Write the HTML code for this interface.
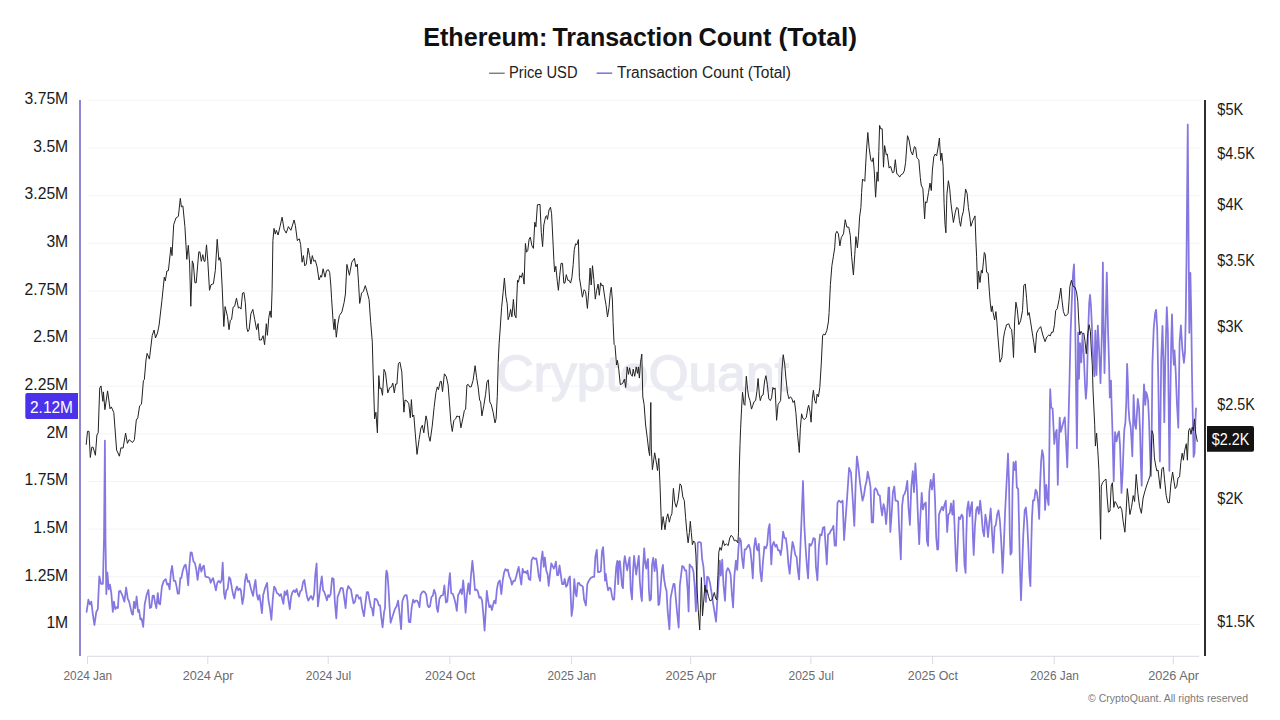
<!DOCTYPE html>
<html><head><meta charset="utf-8"><title>Ethereum: Transaction Count (Total)</title>
<style>
html,body{margin:0;padding:0;background:#fff;}
body{width:1280px;height:720px;overflow:hidden;font-family:"Liberation Sans",sans-serif;}
svg{display:block;}
text{font-family:"Liberation Sans",sans-serif;}
.yl{font-size:15.7px;fill:#1a1a1a;}
.xl{font-size:12.6px;fill:#6b6b6b;}
</style></head><body>
<svg width="1280" height="720" viewBox="0 0 1280 720">
<rect width="1280" height="720" fill="#fff"/>

<text x="423.2" y="45.8" font-size="25.5" font-weight="bold" fill="#111" textLength="124.3" lengthAdjust="spacingAndGlyphs">Ethereum:</text>
<text x="552.4" y="45.8" font-size="25.5" font-weight="bold" fill="#111" textLength="140.4" lengthAdjust="spacingAndGlyphs">Transaction</text>
<text x="698.4" y="45.8" font-size="25.5" font-weight="bold" fill="#111" textLength="73.1" lengthAdjust="spacingAndGlyphs">Count</text>
<text x="778.5" y="45.8" font-size="25.5" font-weight="bold" fill="#111" textLength="78.5" lengthAdjust="spacingAndGlyphs">(Total)</text>
<line x1="489.1" y1="73.2" x2="504.7" y2="73.2" stroke="#444" stroke-width="1"/>
<text x="509" y="77.9" font-size="15.6" fill="#222" textLength="68.5" lengthAdjust="spacingAndGlyphs">Price USD</text>
<line x1="596.6" y1="73.2" x2="612.2" y2="73.2" stroke="#8477e1" stroke-width="1.6"/>
<text x="617" y="77.9" font-size="15.6" fill="#222" textLength="174" lengthAdjust="spacingAndGlyphs">Transaction Count (Total)</text>
<line x1="88" y1="100.3" x2="1200" y2="100.3" stroke="#f4f4f7" stroke-width="1"/>
<line x1="88" y1="147.95" x2="1200" y2="147.95" stroke="#f4f4f7" stroke-width="1"/>
<line x1="88" y1="195.6" x2="1200" y2="195.6" stroke="#f4f4f7" stroke-width="1"/>
<line x1="88" y1="243.25" x2="1200" y2="243.25" stroke="#f4f4f7" stroke-width="1"/>
<line x1="88" y1="290.9" x2="1200" y2="290.9" stroke="#f4f4f7" stroke-width="1"/>
<line x1="88" y1="338.55" x2="1200" y2="338.55" stroke="#f4f4f7" stroke-width="1"/>
<line x1="88" y1="386.2" x2="1200" y2="386.2" stroke="#f4f4f7" stroke-width="1"/>
<line x1="88" y1="433.85" x2="1200" y2="433.85" stroke="#f4f4f7" stroke-width="1"/>
<line x1="88" y1="481.5" x2="1200" y2="481.5" stroke="#f4f4f7" stroke-width="1"/>
<line x1="88" y1="529.15" x2="1200" y2="529.15" stroke="#f4f4f7" stroke-width="1"/>
<line x1="88" y1="576.8" x2="1200" y2="576.8" stroke="#f4f4f7" stroke-width="1"/>
<line x1="88" y1="624.45" x2="1200" y2="624.45" stroke="#f4f4f7" stroke-width="1"/>
<text x="496.5" y="390.5" font-size="50" fill="#eaeaf2" stroke="#eaeaf2" stroke-width="1.4" textLength="292.5" lengthAdjust="spacingAndGlyphs">CryptoQuant</text>
<line x1="87" y1="656.3" x2="1199" y2="656.3" stroke="#dadae8" stroke-width="1"/>
<line x1="87.5" y1="656" x2="87.5" y2="664" stroke="#dadae8" stroke-width="1"/>
<text class="xl" x="63.5" y="680.3" textLength="48.6" lengthAdjust="spacingAndGlyphs">2024 Jan</text>
<line x1="207.8" y1="656" x2="207.8" y2="664" stroke="#dadae8" stroke-width="1"/>
<text class="xl" x="182.7" y="680.3" textLength="50.8" lengthAdjust="spacingAndGlyphs">2024 Apr</text>
<line x1="328.2" y1="656" x2="328.2" y2="664" stroke="#dadae8" stroke-width="1"/>
<text class="xl" x="305.8" y="680.3" textLength="45.4" lengthAdjust="spacingAndGlyphs">2024 Jul</text>
<line x1="449.9" y1="656" x2="449.9" y2="664" stroke="#dadae8" stroke-width="1"/>
<text class="xl" x="425.1" y="680.3" textLength="50.2" lengthAdjust="spacingAndGlyphs">2024 Oct</text>
<line x1="571.5" y1="656" x2="571.5" y2="664" stroke="#dadae8" stroke-width="1"/>
<text class="xl" x="547.5" y="680.3" textLength="48.6" lengthAdjust="spacingAndGlyphs">2025 Jan</text>
<line x1="690.6" y1="656" x2="690.6" y2="664" stroke="#dadae8" stroke-width="1"/>
<text class="xl" x="665.5" y="680.3" textLength="50.8" lengthAdjust="spacingAndGlyphs">2025 Apr</text>
<line x1="810.9" y1="656" x2="810.9" y2="664" stroke="#dadae8" stroke-width="1"/>
<text class="xl" x="788.5" y="680.3" textLength="45.4" lengthAdjust="spacingAndGlyphs">2025 Jul</text>
<line x1="932.6" y1="656" x2="932.6" y2="664" stroke="#dadae8" stroke-width="1"/>
<text class="xl" x="907.8" y="680.3" textLength="50.2" lengthAdjust="spacingAndGlyphs">2025 Oct</text>
<line x1="1054.2" y1="656" x2="1054.2" y2="664" stroke="#dadae8" stroke-width="1"/>
<text class="xl" x="1030.2" y="680.3" textLength="48.6" lengthAdjust="spacingAndGlyphs">2026 Jan</text>
<line x1="1173.3" y1="656" x2="1173.3" y2="664" stroke="#dadae8" stroke-width="1"/>
<text class="xl" x="1148.2" y="680.3" textLength="50.8" lengthAdjust="spacingAndGlyphs">2026 Apr</text>
<text class="yl" x="68.2" y="103.9" text-anchor="end">3.75M</text>
<text class="yl" x="68.2" y="151.58" text-anchor="end">3.5M</text>
<text class="yl" x="68.2" y="199.26" text-anchor="end">3.25M</text>
<text class="yl" x="68.2" y="246.94" text-anchor="end">3M</text>
<text class="yl" x="68.2" y="294.62" text-anchor="end">2.75M</text>
<text class="yl" x="68.2" y="342.3" text-anchor="end">2.5M</text>
<text class="yl" x="68.2" y="389.98" text-anchor="end">2.25M</text>
<text class="yl" x="68.2" y="437.66" text-anchor="end">2M</text>
<text class="yl" x="68.2" y="485.34" text-anchor="end">1.75M</text>
<text class="yl" x="68.2" y="533.02" text-anchor="end">1.5M</text>
<text class="yl" x="68.2" y="580.7" text-anchor="end">1.25M</text>
<text class="yl" x="68.2" y="628.38" text-anchor="end">1M</text>
<text class="yl" x="1217.3" y="114.5" textLength="25.9" lengthAdjust="spacingAndGlyphs">$5K</text>
<text class="yl" x="1217.3" y="159.3" textLength="37.6" lengthAdjust="spacingAndGlyphs">$4.5K</text>
<text class="yl" x="1217.3" y="209.5" textLength="25.9" lengthAdjust="spacingAndGlyphs">$4K</text>
<text class="yl" x="1217.3" y="266.2" textLength="37.6" lengthAdjust="spacingAndGlyphs">$3.5K</text>
<text class="yl" x="1217.3" y="332" textLength="25.9" lengthAdjust="spacingAndGlyphs">$3K</text>
<text class="yl" x="1217.3" y="409.5" textLength="37.6" lengthAdjust="spacingAndGlyphs">$2.5K</text>
<text class="yl" x="1217.3" y="504" textLength="25.9" lengthAdjust="spacingAndGlyphs">$2K</text>
<text class="yl" x="1217.3" y="626.5" textLength="37.6" lengthAdjust="spacingAndGlyphs">$1.5K</text>
<path d="M86.6 611.9 L88.4 599.7 L89.9 604.4 L91.3 601.6 L92.8 613.8 L94.4 625 L96.3 611.9 L97.8 609.1 L99.3 576.3 L101 583.8 L102.9 583.8 L104 538.8 L104.9 440.6 L105.5 538.8 L106.3 594.1 L107.4 572.5 L108.7 589.4 L110 584.7 L111.3 593.1 L112.8 611.9 L113.9 601.6 L115.3 609.1 L116.6 607.2 L117.9 608.1 L119 591.3 L120.3 590.9 L122.2 595 L124.4 601.6 L126.1 587.5 L127.8 598.8 L129.1 601.6 L130.6 608.1 L131.9 613.8 L132.9 614.7 L134 601.6 L135.3 608.1 L136.6 596.5 L138.1 611.9 L139.1 610 L140.4 619.4 L141.5 618.4 L143.2 626.9 L144.7 604.4 L146.6 595 L148.4 589.8 L149.9 608.1 L151.3 607.2 L152.6 595.9 L153.9 595.6 L155 602.5 L156.3 608.1 L157.8 593.1 L158.8 603.4 L160.1 604.4 L161.9 586.6 L163.8 580.9 L165.7 579.1 L167.2 584.7 L168.3 583.8 L169.6 589.4 L170.9 572.5 L172.1 565.9 L173.8 580.9 L175.3 580.9 L176.6 586.6 L177.7 593.7 L179 593.7 L180.3 578.1 L181.3 578.1 L182.8 570.6 L184.3 565.9 L185.6 564.6 L186.9 572.5 L188.2 585.3 L189.3 566.9 L190.6 552.3 L191.9 552.8 L193.4 561.3 L194.9 563.1 L196.3 569.7 L197.6 580 L199.1 567.8 L200 564.1 L201.3 571.6 L202.8 566.9 L203.9 565.6 L205.3 576.3 L206.6 577.2 L208.1 577.2 L209.4 578.1 L210.7 582.8 L211.8 580 L213.1 578.1 L214.4 583.8 L215.9 590.3 L217.3 582.8 L218.8 580.9 L220.3 582.8 L221.6 580 L222.7 562.6 L224 593.1 L225.1 598.8 L226.3 590.3 L227.6 589.4 L229.1 577.2 L230.4 579.1 L231.9 588.4 L233.2 595 L234.3 598.4 L235.6 590.3 L236.9 586.6 L238.4 590.3 L239.8 588.4 L240.9 590.3 L242.4 604 L243.7 596.9 L245 580.9 L246.3 574 L247.8 581.9 L249.1 580.9 L250.6 587.5 L251.9 592.2 L253.1 595.9 L254.4 585.6 L255.5 580 L256.8 594.1 L258.1 599.7 L259.4 595 L260.6 602.5 L261.9 613.2 L263.2 595 L264.7 589.4 L266 585.6 L267.1 582.8 L268.4 599.7 L269.9 608.1 L271.4 619.8 L272.8 598.8 L274.1 586.6 L275.4 588.4 L276.9 593.1 L278.4 594.1 L279.7 595.9 L281 594.1 L282.1 598.8 L283.4 603.8 L284.6 591.3 L285.9 595 L287.2 590.3 L288.5 600.6 L289.8 609.1 L291.1 596.9 L292.4 592.2 L293.8 590.3 L295.1 592.2 L296.6 589 L297.9 594.1 L299 596.5 L300.3 591.3 L301.6 590.3 L303.1 581.9 L304.4 580 L305.9 590.3 L307.3 597.8 L308.4 600.6 L309.7 597.8 L311 595.9 L312.8 599.7 L314.1 594.1 L315.3 574.4 L316.6 563.5 L317.9 606.3 L319.4 595 L320.7 583.8 L321.8 576.3 L323.1 590.3 L324.4 592.2 L325.9 596.9 L326.9 600.3 L328.2 595 L329.3 596.9 L330.6 594.1 L332.1 578.1 L333.6 579.1 L334.9 602.5 L336.3 618.4 L337.6 596.9 L339.1 593.1 L340.9 587.9 L342.8 588.4 L344.3 598.8 L345.6 608.1 L346.9 591.3 L348.3 586 L349.8 588.4 L350.9 589.4 L352.2 596.9 L353.5 603.4 L355 601.6 L356.3 595 L357.6 595 L359.1 598.8 L360.6 597.3 L362.1 608.1 L364 616.2 L365.3 604.4 L366.8 592.2 L368.1 592.2 L369.6 600.6 L370.9 607.2 L371.9 608.1 L373.2 615.6 L374.7 598.8 L376.2 599.1 L377.5 601 L378.8 605.3 L380 605.3 L381.3 617.5 L382.6 627.3 L384.1 611.9 L385 608.1 L385.9 576.3 L386.5 570.6 L387.4 573.4 L388.4 586.6 L389.5 606.3 L390.6 622.8 L391.9 618.4 L393.4 613.8 L394.9 609.1 L396.6 606.3 L398.1 600.6 L399.6 613.8 L401.1 629.1 L402.3 601.6 L403.8 596.9 L405.3 595 L406.6 595 L407.5 600.6 L408.8 621.8 L410.3 622.2 L411.6 608.1 L413.1 599.7 L414.4 602.5 L415.6 600.6 L416.9 600.6 L418.2 602.5 L419.5 607.2 L420.6 595 L422.1 592.2 L423.4 591.3 L424.9 592.2 L426.3 595 L427.6 605.3 L428.7 607.2 L430 606.3 L431.5 596.9 L432.8 595.9 L434.1 589.8 L435.6 594.1 L436.8 608.1 L437.9 611.9 L439.4 598.8 L440.9 595.9 L443.1 595 L444.4 585.3 L445.9 602.5 L447.3 601.6 L448.8 583.8 L449.9 573.1 L451.2 593.1 L452.9 594.1 L454.4 598.8 L455.7 604.4 L456.8 610.9 L458.1 595 L459.4 593.1 L460.6 589.4 L461.9 594.1 L463.2 580.4 L464.3 593.1 L465.6 612.8 L466.9 595 L468.4 583.4 L469.8 594.1 L470.9 576.3 L472.4 560.9 L473.7 574.4 L475 590.3 L476.5 589.4 L477.8 591.3 L479.3 597.8 L480.6 596.9 L482.1 600.6 L483.3 613.8 L484.6 630.6 L485.9 608.1 L486.8 590.9 L488.1 600.6 L489.3 607.2 L490.6 605.3 L491.9 610 L493.2 604.4 L494.3 600.6 L495.6 603.4 L496.9 589.4 L498.1 582.8 L499.8 580.4 L501.3 594.1 L502.8 580 L504.1 572.5 L505.4 569.1 L506.9 570.6 L507.8 569.7 L509.3 576.3 L510.6 579.1 L511.9 584.7 L513.4 580.9 L514.8 580.9 L516.3 576.3 L517.6 570.6 L518.7 566.9 L520 576.3 L521.3 584.7 L522.6 568.8 L523.8 572.5 L525.1 571.6 L526.6 573.4 L527.5 570.6 L528.8 579.1 L530.3 580 L531.6 560.3 L533.1 557.5 L534.6 558.8 L536.3 558.4 L537.4 565 L538.8 576.3 L540.1 580.9 L541.2 561.3 L542.5 551.5 L543.8 566.9 L544.9 557.5 L546.3 570.6 L547.6 574.4 L548.7 585.9 L550 573.8 L551.3 563.4 L552.6 566 L553.8 568.6 L554.8 566 L555.9 561.6 L557.1 575.2 L558.3 575.2 L559.5 565.5 L560.7 573.8 L562.1 584.2 L563.5 584.2 L564.7 579 L566.1 586.8 L567.3 585.1 L568.5 579 L569.9 576.4 L570.8 598.1 L571.6 616 L572.9 606.8 L574.3 579 L575.5 592.9 L576.5 596.4 L577.7 583.3 L579.1 582.8 L580.3 585.1 L581.7 585.6 L582.9 586.8 L584.1 599.8 L585.9 605.4 L587.3 584.2 L589 580.4 L590.7 578.1 L592.5 576.9 L594.2 576.9 L595.4 556.4 L596.8 549.8 L598 572.1 L599.4 572.1 L600.8 571.2 L602 551.2 L603.1 547.2 L604.3 565.1 L605 580.7 L605.8 573.8 L606.9 583.3 L608.1 590.3 L609.5 587.7 L610.7 588.5 L612.1 596.4 L612.9 599.5 L614.2 599.5 L615 584.2 L616.2 566.9 L617.3 560.8 L618.2 584.2 L619 561.6 L619.9 561.1 L620.9 572.1 L622 585.9 L623 588.2 L623.9 563.4 L624.8 556.1 L626 563.4 L627.2 570.3 L628.4 563.4 L629.6 557.3 L630.7 589.4 L632 599.5 L633.1 570.3 L634.1 555.9 L635.2 566 L636.2 574.7 L637.2 566.9 L638.8 555.9 L639.8 580.7 L641.1 596.4 L641.9 601 L642.8 572.1 L644.2 548.3 L645.2 563.4 L646.3 568.6 L647.1 561.6 L648 559 L648.9 589.4 L649.7 600.7 L651 599 L652 565.1 L653.2 557.8 L654.6 571.2 L655.8 559 L657.2 572.1 L658.4 605 L659.3 604.2 L660.5 589.4 L661.9 570.3 L662.9 564.8 L664.1 579 L665.4 586.8 L666.6 591.2 L667.6 610.2 L669.4 629.3 L670.6 598.1 L672.3 589.4 L673.5 583.9 L674.6 584.2 L675.8 598.1 L677.2 613.7 L678.7 627.6 L679.8 585.9 L680.6 579 L682.2 566 L683.6 566.9 L685 570.3 L686.2 570.3 L687.6 589.4 L688.6 611.5 L689.6 564.4 L690.7 566.3 L692.2 567.2 L693.5 571.9 L694.6 585 L695.9 611.3 L696.9 575.6 L697.8 542.8 L699.3 541.9 L701 542.8 L702.1 558.8 L703.4 566.3 L704.8 585 L705.9 601.9 L707.2 576.6 L708.5 577.5 L710 583.1 L711.5 592.5 L713.2 603.8 L714.7 613.1 L716 621.6 L717.1 603.8 L718.4 585 L719.8 560.6 L720.9 575.6 L722.2 559.7 L723.5 585 L725 600.9 L726.3 571.9 L727.8 568.1 L729.1 570 L730.6 574.7 L731.9 594.4 L733.1 607.5 L734.4 575.6 L735.9 560.6 L737.2 570 L738.5 547.5 L739.6 538.1 L740.9 540.9 L741.9 556.9 L743.4 568.1 L744.7 549.4 L746 549.4 L747.5 546.6 L748.8 544.7 L750.3 549.4 L751.6 562.5 L752.8 578.4 L754.1 547.5 L755.4 538.1 L756.9 549.4 L757.8 550.3 L758.8 543.8 L760.3 571.9 L761.6 581.3 L762.9 562.5 L764.4 546.6 L765.9 548.4 L767.2 544.7 L768.5 528.8 L769.6 524.1 L770.6 547.5 L771.3 564.4 L772.4 545.6 L773.8 541.9 L775.3 546.6 L776.6 544.7 L778.1 550.3 L779.4 550.3 L780.7 555 L781.8 547.5 L783.1 531.6 L784.6 538.1 L785.9 538.1 L787.3 549.4 L788.4 564.4 L789.7 573.8 L791 556.9 L792.5 541.9 L793.8 546.6 L795.3 555 L796.6 556.9 L797.8 570 L799.1 579.4 L800 556.9 L801.3 525 L803 481 L804.3 525 L805.6 547.5 L806.9 566.3 L808.1 578.4 L809.4 543.8 L810.9 545.6 L812.2 542.8 L813.5 538.1 L815 539.1 L815.9 566.3 L817.4 580.3 L818.8 547.5 L820.1 534.4 L821.6 535.3 L822.9 527.8 L824.4 526.9 L825.7 547.5 L826.8 564.4 L828.1 534.4 L829.6 533.4 L830.9 530.6 L832.3 528.8 L833.4 525.9 L834.7 545.6 L836 545.6 L837.5 502.5 L839 500.6 L840.9 502.5 L842.6 500.6 L844.1 540 L845.5 520 L846.9 500.6 L849.1 467.8 L851 472.5 L852.6 497.3 L854.3 525.9 L855.7 483.4 L856.9 456.5 L858.3 466 L859.9 481.6 L861.3 492.1 L862.5 500.7 L863.9 495.5 L865.3 486 L866.5 481.6 L867.7 471.6 L869.1 478.2 L870.5 486.9 L871.7 522.4 L873.1 522.4 L874.3 490.3 L875.5 488.2 L876.9 490.3 L878.3 494.7 L879.8 495.5 L880.9 506.8 L882.1 515.5 L883.5 504.2 L884.7 508.5 L886.1 524.2 L887.3 509.4 L888.5 487.7 L889.2 487.7 L890.3 532 L891.6 514.6 L892.9 492.1 L894.3 486.5 L895.5 500.7 L896.9 500.7 L898.1 501.6 L899.1 526.8 L900.8 559.4 L902.1 505.9 L903.4 495.5 L904.7 493.8 L905.9 489.5 L907.3 480.8 L908.5 507.7 L909.9 525 L911.3 486.9 L912.8 471.2 L914 492.1 L915.4 463.4 L916.8 486.9 L918 518.1 L919.2 544.1 L920.3 518.1 L921.7 492.9 L922.9 509.4 L924.3 504.2 L925.8 502.5 L926.9 540.7 L928.1 545.9 L929.3 492.1 L930.7 479.9 L932.1 489.5 L933.8 473.8 L935 499 L936.2 537.2 L937.3 549.7 L938.2 549.3 L939 514.6 L940.2 511.1 L942 506.8 L943.2 510.3 L944.6 504.2 L945.8 500.7 L947.2 532 L948.4 514.6 L949.8 512.9 L951 503.3 L952.4 514.6 L953.6 500.7 L954.6 526.8 L955.7 556.3 L956.6 571.1 L957.6 547.6 L958.8 517.2 L960.2 519 L961.6 514.6 L962.8 516.4 L963.7 544.1 L964.5 565 L965.6 572.9 L966.3 537.2 L967.1 509.4 L968.4 501.6 L969.7 516.4 L971 506.8 L972 502.1 L972.9 537.2 L973.7 555 L974.9 526.8 L976.3 509.4 L977.5 506.8 L978.8 513.8 L980.2 500.7 L981.4 512.9 L982.8 530.2 L984.1 536.3 L985.4 514.6 L986.6 521.6 L988 537.2 L989.4 521.6 L990.7 508.5 L992 532 L993.3 552.8 L994.6 526.8 L995.8 525 L997.2 514.6 L998.5 510.3 L999.8 519.8 L1001 537.2 L1002 558 L1002.6 572.9 L1003.9 543.4 L1005.1 512.1 L1006.6 482.2 L1008 453.5 L1009 482.2 L1009.8 534.7 L1010.5 554.7 L1011.7 552.1 L1012.5 489.1 L1013.5 462.2 L1014.8 470 L1015.8 461.4 L1016.8 487.4 L1018.2 489.1 L1019 522.6 L1020 569.4 L1021 600.3 L1022.1 569.4 L1023.3 534.7 L1024.7 510.4 L1025.9 507.5 L1027.1 520.8 L1028.2 543.4 L1029.4 574.6 L1030.4 586.2 L1031.3 543.4 L1032 517.4 L1033 500.4 L1034.2 500.4 L1035.6 489.6 L1036.8 491.7 L1038.2 503 L1039.2 519 L1039.9 489.1 L1041.1 461.4 L1042.2 450.1 L1043.4 456.2 L1044.3 480.4 L1045.1 510 L1046.3 484.8 L1047.4 497.8 L1048.6 505 L1049.3 454.4 L1049.8 411 L1050.2 389.2 L1051.2 407.6 L1052.6 408.4 L1053.4 424.9 L1054.3 444 L1055.5 433.6 L1056.7 429.8 L1057.8 484.8 L1058.7 445.7 L1059.7 417.6 L1060.7 431.9 L1062 427.5 L1063.3 422.3 L1064.8 417.3 L1066 440 L1067.3 467.4 L1068.4 425 L1069.4 385 L1070.6 332.5 L1072.1 293.9 L1073 274.4 L1074 264.3 L1074.8 293.9 L1075.4 335 L1076.2 400 L1076.9 448.2 L1077.5 400 L1078.1 332.5 L1079 378.8 L1080 343.1 L1081.3 362.5 L1082.5 335 L1083.8 355 L1085 385 L1085.9 398.8 L1086.9 385 L1088.1 332.5 L1089.2 303 L1090 294.9 L1090.9 305 L1091.9 326.3 L1093.1 357.5 L1094.4 376.3 L1095.3 330.6 L1096.5 375 L1097.8 325.6 L1099 347.5 L1100.5 383.2 L1101.9 332.5 L1102.9 262.5 L1103.5 326.3 L1104.5 373.1 L1105.4 332.5 L1106.8 272.5 L1108.1 332.5 L1109.1 365 L1109.8 397.5 L1110.4 382.5 L1111 380.6 L1111.5 401.3 L1112.5 432.5 L1113.7 481.3 L1114.6 445 L1115.1 432.1 L1116 440 L1116.6 441.3 L1117.8 433.8 L1119 431.3 L1120 445 L1121.5 492.9 L1122.7 471.8 L1123.8 440 L1124.4 428.8 L1125.4 422.5 L1126.3 401.3 L1127.1 363.8 L1127.9 382.5 L1128.5 407.5 L1129.4 420 L1130.6 426.3 L1131.5 440 L1132.3 456.3 L1132.9 432.5 L1133.6 395 L1134.3 411.3 L1135 425 L1136 428.8 L1136.9 413.8 L1137.8 398.8 L1139 407.5 L1140 430 L1140.9 465 L1141.7 485.7 L1142.5 437.1 L1143.3 402 L1144 384.4 L1144.7 393 L1145.3 404.9 L1146.1 392 L1147 394.5 L1148.1 401 L1149 420 L1150.1 455 L1151 476 L1151.8 425 L1152.4 363.9 L1153.7 328.9 L1155.1 313.3 L1156.1 309.8 L1157.2 328.9 L1158.3 380 L1159 430 L1159.9 461.4 L1160.6 410 L1161.2 360 L1162.5 326 L1163.4 361.9 L1164.3 422.2 L1165.3 360 L1166.8 307.1 L1167.9 332.8 L1168.6 400 L1169.4 470.8 L1170.3 400 L1171.2 342.5 L1172 314.3 L1173 350.3 L1173.8 364.8 L1174.5 350.3 L1175.7 371.6 L1176.9 402.8 L1178.3 427.8 L1179 380 L1179.6 342.5 L1180.9 325.4 L1182.3 348.3 L1183.9 362.9 L1185 352.2 L1185.8 313.3 L1186.5 260 L1187.75 124.5 L1188.5 230 L1189.3 332.8 L1190.4 272.9 L1191.2 313.3 L1192 375 L1192.5 402.8 L1193.2 437.5 L1193.6 456.9 L1194.6 452.8 L1195.3 423.6 L1196 408.3" fill="none" stroke="#8477e1" stroke-width="1.75" stroke-linejoin="round" stroke-linecap="round"/>
<path d="M86.2 444.4 L87.5 431.3 L89 431.3 L90.3 457.5 L91.8 447.2 L93.1 447.2 L95.4 455.3 L96.9 435 L98.2 432.8 L99.7 388.1 L101 385.9 L102.9 401.3 L103.4 391.9 L104.9 409.7 L107.6 390.9 L110 408.8 L111.3 406.9 L113.8 412.5 L116.6 450 L119.4 456.2 L120.9 447.8 L123.1 448.1 L125.6 433.1 L127.4 443.4 L129.1 439.7 L132.5 442.5 L134.4 439.7 L136.3 420 L137.8 417.8 L139.6 405.9 L141.5 404.1 L143.4 380.6 L144.3 379.7 L146 360 L147.1 353.4 L149.4 359.1 L152.2 335.6 L154.1 330 L155.5 338 L157.5 333 L159.1 325 L161.9 300.6 L164.3 277.2 L165.3 280.9 L166.9 271 L168.4 270.6 L170.9 247.2 L172 255.6 L173.7 224.7 L175.9 218.1 L178.4 216.3 L180.3 198.4 L181.4 206.9 L182.9 205.9 L184.9 226.6 L186.8 259.4 L188.3 245.3 L189.6 263.1 L190.8 306.3 L192.3 260.9 L193.4 264.1 L194.9 282.8 L196.2 282.8 L198.8 251.9 L199.9 251.9 L201.3 261.3 L202.8 254.7 L204.1 261.3 L205 261.3 L206.5 244.8 L207.8 261.3 L209.5 290.3 L211 284.7 L213.4 283.8 L215.3 270.6 L217.2 239.3 L218.9 260.3 L219.8 257.5 L220.9 262.2 L222.3 290 L223.8 326.5 L225.1 306.6 L227.5 316.6 L229 329.7 L230.3 320.3 L231.6 319.4 L233.1 307.2 L234.6 306.3 L236.5 298.2 L238.4 308.1 L239.7 307.2 L241 309.1 L242.5 293.1 L244 292.6 L245.3 302.5 L246.8 327.8 L247.8 331.6 L249.1 329.7 L250.9 313.8 L252.8 309.4 L254.7 319.4 L256.6 329.7 L258.1 323.5 L259.4 340 L261.3 340 L263.1 335.7 L264.6 344.7 L266.3 323.7 L267.4 335.3 L268.8 317.5 L270.1 310.9 L271.2 317.5 L272.1 289.4 L272.5 265 L272.9 240.6 L274 228.4 L275.3 234.1 L276.3 230.3 L278.1 235 L280 226.6 L282.1 217.2 L284.1 229.4 L286.2 233.1 L288.4 226.6 L290.9 230.3 L294.1 220 L295.4 225.6 L297.3 240.6 L299.3 238.8 L300.6 244.4 L302.1 262.2 L303.4 255.6 L304.8 265.9 L306.3 264.1 L308.1 248.1 L309.6 255.6 L310.9 264.1 L312.3 255.6 L313.8 261.3 L315.3 260.3 L317.1 266.9 L319 280 L320.9 275.3 L321.6 277.2 L323.1 268.8 L325 277.2 L326.5 270.6 L328.4 269.7 L329.7 272.5 L330.8 285 L331.6 298.8 L333.1 321.3 L334 329.7 L334.9 319 L336.3 337.2 L337.8 324.1 L339.4 315.6 L341.9 311.9 L344.1 302.5 L345.4 294 L346.9 264.4 L349.4 275.3 L351.8 262.2 L354.4 258.4 L355.9 266.9 L357.3 264.1 L358.6 283.8 L359.7 303.4 L361.6 293.1 L363.4 291.3 L365.3 285.6 L367.2 292.2 L369.1 299.7 L370.6 321.3 L372.3 341.9 L373.1 371.9 L374.6 418.8 L375.9 412.2 L377.4 432.8 L378.8 375.6 L379.9 388.8 L381 387.8 L382.5 395.3 L384 369.4 L385.5 372.8 L387.8 392.9 L389.6 387.8 L391.5 386.9 L392.8 383.1 L394.3 392.9 L395.6 384.1 L396.9 384.1 L398.4 363.4 L399.9 362.1 L401.8 371.9 L403.1 396.3 L403.9 412.2 L405 400 L406.9 400.9 L408.8 403.8 L410.3 417.8 L411.4 399.6 L412.5 416.9 L413.8 415 L415.3 433.8 L417 454.4 L419.1 439.4 L420.9 428.1 L422.3 425.3 L423.8 432.8 L426 415.9 L427.1 420.6 L428.6 435.6 L430.1 441.3 L432.2 426.3 L434.1 407.5 L435.9 392.5 L437.3 386.9 L438.4 389.7 L440.3 381.3 L441.3 381.3 L442.5 391.6 L444.4 373.8 L446.3 376.6 L448.1 385 L449.4 401.9 L450.9 422.5 L452.3 431.5 L453.8 420.6 L455.6 418.8 L456.9 415.9 L458.4 416.9 L459.4 415.9 L460.9 427.8 L462.8 418.8 L464.4 410.3 L465.6 409.4 L466.9 385 L468.2 384.4 L469.7 386.9 L471.2 386.9 L473.1 380.3 L475.1 365.7 L476.6 377.5 L478.1 386.9 L479.6 400 L480.6 401.5 L481.9 415.9 L483.8 405.6 L485.6 394.4 L486.9 382.2 L488.3 379.8 L489.8 401.9 L491.3 404.7 L493.1 412.2 L495 422.9 L496.1 418.8 L497.3 396.3 L498.2 362.5 L499.1 343.8 L500.1 330 L501.6 307.5 L503.1 292.5 L504.4 278.1 L505.9 296.3 L507.2 303.8 L508.1 319.7 L509.4 315.9 L510.6 309.4 L511.9 316.9 L513.4 299.4 L514.7 315 L516 317.8 L517.5 280.3 L518.4 282.2 L519.8 275.6 L521.3 277.5 L522.6 272.8 L524.1 284.1 L525.4 243.4 L526.5 252.2 L527.8 250.3 L529.1 239.1 L530.3 237.2 L531.9 245.6 L533.4 248.4 L534.8 222.2 L535.9 226.9 L537.4 204.8 L540 204.4 L541.3 232.5 L542.6 246.6 L543.8 225 L545.6 216.6 L546.6 215.6 L547.5 219.4 L549 210 L550.5 207.2 L551.6 213.8 L552.8 238.1 L553.9 260.6 L554.6 271.9 L555.8 266.3 L557.3 281.3 L558.4 290.3 L559.7 275.6 L561 263.4 L562.5 263.4 L563.8 283.1 L564.9 283.1 L566.3 274.7 L567.8 280.3 L569.1 280.3 L570.6 283.1 L571.9 277.5 L573.2 264.4 L574.3 249.4 L575.6 243.8 L576.9 244.7 L578.4 239.6 L579.4 277.5 L580.9 286.9 L582.4 297.2 L584.1 289.7 L585.6 291.6 L587.4 308.4 L588.8 290.6 L590.1 268.1 L591.2 285 L592.5 265.7 L593.8 279.4 L595.3 299.1 L596.6 290.6 L598.1 284.1 L599.3 295.3 L600.6 282.8 L601.9 285.9 L603 285 L604.7 297.2 L606 304.7 L607.5 316.9 L609 307.5 L610.3 292.5 L611.3 287.3 L612.4 300 L613.1 322.5 L614.1 344.4 L615 345.3 L616.5 365 L617.4 360.3 L618.8 369.7 L620.3 384.7 L621.9 383.8 L623 382.8 L624.4 379.1 L625.7 387.5 L627.2 366.9 L628.5 374.4 L629.6 367.8 L630.9 374.4 L632.3 376.3 L633.2 369.1 L634.7 376.3 L636.2 366.9 L637.5 373.4 L638.4 366.9 L639.4 378.1 L640.5 362.2 L641.8 354.1 L642.8 396.9 L644.1 404.4 L645.6 425 L647.3 438.1 L648.8 451.3 L649.7 455.6 L650.4 420 L650.8 402.5 L651.3 448.1 L652.4 469.7 L654.7 452.8 L656.6 464.1 L657.5 470.6 L658.8 458.4 L659.9 481.9 L660.9 510 L661.6 529.7 L663.1 516.6 L665 529.7 L666.3 519.4 L667.8 513.8 L669.3 522.2 L670.6 516.6 L671.9 513.8 L673.4 488.4 L674.8 502.5 L676.3 507.2 L678.1 499.7 L680 483.8 L681.3 485.6 L682.8 496.9 L684.3 500.6 L685.6 517.5 L686.9 532.5 L688.1 542.8 L689.4 532.5 L690.3 521.3 L691.3 532.5 L692.4 544.7 L693.7 540.9 L695 542.8 L695.9 555 L696.9 585 L698.2 609.4 L699.7 630 L700.6 603.8 L701.4 577.5 L702.5 615.9 L703.8 600 L704.9 585 L705.9 592.5 L707 589.7 L708.5 596.3 L710 600.9 L711.9 600 L713.2 596.3 L714.3 592.5 L715.6 598.1 L716.8 600 L717.9 575.6 L718.8 552.2 L719.9 547.5 L721.3 550.3 L723.1 540.5 L724.6 545.6 L726.3 543.8 L728.2 545.6 L729.7 538.1 L731.2 535.3 L732.9 537.2 L734.4 540.9 L735.9 540 L737.8 542.8 L738.5 532.5 L739.1 476.3 L740 444.4 L740.6 428.8 L741.6 408.1 L742.5 392.2 L744 404.4 L744.9 405.3 L746.3 376.3 L747.6 389.4 L748.7 396.9 L750 400.6 L751.5 409.1 L752.8 405.3 L754.1 401.6 L755.6 400.6 L756.9 391.3 L758.1 378.5 L759.4 395 L760.3 400.6 L761.6 395.9 L763.1 395 L764.6 380.9 L765.9 375.7 L767.4 384.7 L768.8 398.8 L770.3 400.6 L771.6 397.8 L772.9 387.5 L774 389.4 L775.1 387.9 L776.6 420.3 L778.1 404.4 L779.4 402.5 L780.6 400.6 L781.9 370.6 L783.2 354.7 L784.7 364.1 L786 379.1 L787.5 393.1 L789 398.8 L790.3 396.9 L791.6 397.8 L793.1 402.5 L794.4 400.6 L795.9 412.8 L797.4 432.5 L798.8 447.5 L799.3 452.5 L800.3 428.8 L801.6 413.8 L802.9 418.4 L804.4 419.4 L806.3 417.5 L807.8 408.1 L808.7 405.3 L810 411.9 L811.1 422.2 L812.3 398.8 L813.4 390.3 L814.7 400.6 L816 403.4 L817.1 394.1 L818.4 396.9 L819.8 387.5 L821.3 363.1 L822.6 335.9 L823.5 334.1 L825 335 L826.9 330.3 L828.4 321.9 L829.1 312.5 L830.4 284.4 L831.9 265.6 L833.4 256.3 L834.7 247.8 L835.6 233.8 L836.9 231.3 L838.4 233.8 L839.9 245.9 L841.3 237.5 L843.5 233.8 L845.2 219.7 L846.9 227.2 L848.8 227.2 L850.3 235.6 L851.6 256.3 L853.4 275 L854.8 254.4 L855.9 236.6 L857.4 247.8 L858.5 235.6 L859.6 216.9 L860.9 207.5 L861.6 192.5 L862.5 179 L864.8 181.3 L866.3 153.1 L867.8 132.5 L869.1 147.5 L870.9 160.6 L872.3 161.6 L873.2 157.8 L874.3 171.9 L875.6 197.2 L877.1 171.9 L878.1 181.3 L878.8 151.3 L879.6 125.4 L880.7 128.8 L882.2 128.8 L883.5 167.2 L884.6 145.6 L886.3 155 L887.3 154.1 L889.1 168.1 L890.6 166.3 L892.5 172.8 L894 171.9 L895.3 159.7 L896.8 173.8 L898.1 174.7 L899.6 177.1 L901.1 174.7 L902.8 173.8 L904.3 170.9 L905.6 162.5 L907.5 135.7 L909 140 L910.9 151.3 L912.6 155 L914.4 146.6 L915.6 147.5 L916.9 157.8 L918.8 159.7 L920.3 177.5 L921.2 185 L922.9 188.8 L923.8 203.8 L924.6 218.8 L925.5 201.9 L926.8 202.8 L928.5 192.5 L930 183.1 L931.3 190.6 L932.4 170 L933.8 156.9 L935.1 154.1 L936.6 155.9 L938.1 147.5 L939.4 138.1 L940.7 160.6 L941.8 153.1 L943.1 166.3 L944.1 203.8 L945 224.4 L945.9 232.8 L946.9 194.4 L948.4 180.7 L949.7 188.8 L951 203.8 L953.4 222.5 L955.3 212.2 L956.6 207.5 L958.1 208.4 L959.4 220.6 L960.6 226.3 L961.9 216.9 L963.4 211.3 L965.6 189.1 L967.1 193.4 L968.4 207.5 L969.8 216.9 L970.9 226.3 L972.8 220.6 L975 215.9 L975.9 241.3 L976.6 256.3 L977.6 289.1 L978.5 271.3 L980 282.5 L981.3 270.3 L982.3 273.1 L983.4 261.9 L984.3 252.5 L985.3 254.4 L986.6 272.2 L988.1 273.1 L989.4 291.9 L990.3 303.1 L991.3 311.6 L992.2 305.9 L993.1 312.5 L994.6 320 L995.9 311.6 L996.9 321.9 L997.8 335 L1000 362.2 L1001.9 357.5 L1003.4 338.8 L1004.7 331.3 L1006.6 324.7 L1008.8 323.8 L1010.3 328.4 L1011.6 329.4 L1012.6 340.6 L1013.5 357.5 L1014.6 321.9 L1015.9 302.2 L1017.3 309.7 L1018.8 324.7 L1020.6 320.9 L1022.5 310.6 L1023.8 285.3 L1025.3 284 L1026.6 298.4 L1027.8 315.3 L1029.1 312.5 L1030.6 321.9 L1032.3 333.1 L1033.8 342.5 L1035.1 352.8 L1036.6 333.1 L1038.4 329.4 L1040.7 326.6 L1042.8 335 L1045 341.6 L1046.9 336.9 L1048.8 335 L1050.3 335.9 L1051.6 332.2 L1053.1 332.2 L1054.4 324.7 L1055.7 310.6 L1057.2 308.8 L1059.1 299.4 L1060.8 288.1 L1061.9 299.4 L1063.4 311.6 L1065.1 315.9 L1066.6 315.3 L1068.1 313.4 L1069 301.3 L1069.9 286.3 L1071.4 280.3 L1073.1 286.3 L1075 287.2 L1076.5 291.9 L1077.8 301.3 L1078.8 321.9 L1079.7 335 L1081 331.3 L1082.5 334.1 L1083.8 333.1 L1084.9 340.6 L1086.3 353.8 L1087.6 335 L1089.1 324.7 L1090.4 331.3 L1091.3 350 L1092.3 365 L1093 390 L1094.7 424.8 L1095.4 446.1 L1096.6 433.1 L1097.8 450.8 L1098.9 469.7 L1099.6 493.3 L1100.6 539.3 L1101.3 486.2 L1102.5 482.7 L1104.4 480.3 L1106 479.1 L1107.2 498 L1108.4 512.2 L1110 511 L1111.2 486.2 L1112.4 482.7 L1113.8 507.4 L1115 501.5 L1116.6 503.9 L1118.5 508.6 L1120.2 506.3 L1121.8 509.8 L1123.2 521.6 L1124.9 532.2 L1126.1 512.2 L1127.3 488.6 L1128.4 498 L1129.9 514.5 L1131.5 507.4 L1133.2 495.6 L1134.6 501.5 L1136.2 474.4 L1137.9 493.3 L1139.5 506.3 L1141.4 513.3 L1143.1 498 L1145 490.9 L1146.8 485 L1148.5 480.3 L1150.1 475.6 L1151.1 457.9 L1152 430.7 L1153.2 434.3 L1154.4 457.9 L1155.6 465 L1156.8 470.9 L1158 470 L1159.1 479.1 L1160.3 488.6 L1161.9 468.5 L1163.4 467.3 L1164.5 479.1 L1166.2 495.6 L1167.8 502.7 L1169.3 502.7 L1170.9 483.8 L1172.6 472 L1174 481.5 L1175.2 488.6 L1176.8 486.2 L1178 477.9 L1179.6 476.8 L1180.8 462.6 L1182.2 453.2 L1183.4 460.2 L1184.6 450.8 L1186.3 443.7 L1187.4 460.2 L1188.6 430.7 L1189.8 428.4 L1191 434.3 L1192.2 427.2 L1193.3 430.7 L1194.5 418.9 L1195.7 433.1 L1197.3 441.4" fill="none" stroke="#222" stroke-width="1" stroke-linejoin="round" stroke-linecap="round"/>
<line x1="80" y1="100" x2="80" y2="656" stroke="#9186d3" stroke-width="2"/>
<line x1="1205" y1="100" x2="1205" y2="656" stroke="#2e2e2e" stroke-width="2"/>
<path d="M27.3 393H78V419H27.3a2 2 0 0 1-2-2V395a2 2 0 0 1 2-2z" fill="#4b32ea"/>
<text x="30" y="412.8" font-size="15.6" fill="#fff" textLength="43" lengthAdjust="spacingAndGlyphs">2.12M</text>
<path d="M1207 426.1H1252.2a1.8 1.8 0 0 1 1.8 1.8V450a1.8 1.8 0 0 1-1.8 1.8H1207z" fill="#131313"/>
<text x="1211.8" y="445.2" font-size="15.6" fill="#fff" textLength="37.6" lengthAdjust="spacingAndGlyphs">$2.2K</text>
<text x="1088" y="702" font-size="10.6" fill="#7a7a7a" textLength="160" lengthAdjust="spacingAndGlyphs">© CryptoQuant. All rights reserved</text>
</svg></body></html>
